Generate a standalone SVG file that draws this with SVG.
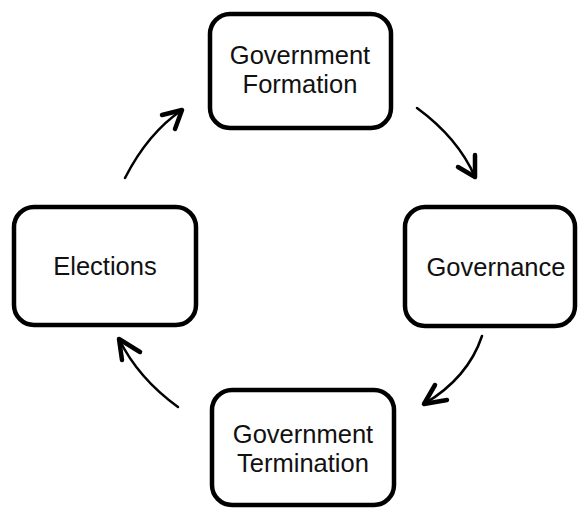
<svg xmlns="http://www.w3.org/2000/svg" width="579" height="509" viewBox="0 0 579 509">
<style>
.box{fill:#fff;stroke:#000;stroke-width:4.5}
.lbl{font-family:"Liberation Sans","Noto Sans",sans-serif;font-size:25.5px;fill:#111;text-anchor:middle}
.line{fill:none;stroke:#000;stroke-width:2.5;stroke-linecap:round}
.head{fill:none;stroke:#000;stroke-width:4.5;stroke-linecap:round;stroke-linejoin:round}
</style>
<rect width="579" height="509" fill="#fff"/>
<g id="gov-formation">
<rect class="box" x="210" y="14" width="181" height="114" rx="20"/>
<text class="lbl" x="300" y="64">Government</text>
<text class="lbl" x="300" y="93">Formation</text>
</g>
<g id="governance">
<rect class="box" x="405" y="207" width="170" height="119" rx="20"/>
<text class="lbl" x="496" y="276">Governance</text>
</g>
<g id="gov-termination">
<rect class="box" x="212" y="390" width="182" height="115" rx="20"/>
<text class="lbl" x="303" y="443">Government</text>
<text class="lbl" x="303" y="472">Termination</text>
</g>
<g id="elections">
<rect class="box" x="14" y="207" width="182" height="118" rx="20"/>
<text class="lbl" x="105" y="275">Elections</text>
</g>
<g id="connectors">
<path class="line" d="M417,108 Q458,138 475,177"/>
<polyline class="head" points="458,167 475,177 475,155"/>
<path class="line" d="M482,336 Q468,378 424,404"/>
<polyline class="head" points="435,385 424,404 447,400"/>
<path class="line" d="M178,407 Q138,378 119,339"/>
<polyline class="head" points="122,360 119,339 140,352"/>
<path class="line" d="M125,178 Q148,133 182,110"/>
<polyline class="head" points="162,115 182,110 175,129"/>
</g>
</svg>
